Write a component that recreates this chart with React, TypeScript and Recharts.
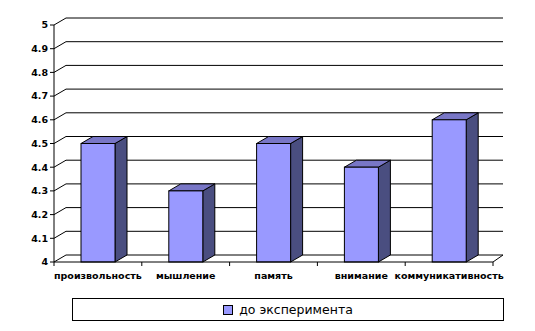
import React from "react";
import { BarChart, Bar, XAxis, YAxis, CartesianGrid, Legend, Customized } from "recharts";

const categories = ["произвольность", "мышление", "память", "внимание", "коммуникативность"];
const beforeValues = [4.5, 4.3, 4.5, 4.4, 4.6];
const yTicks = [4, 4.1, 4.2, 4.3, 4.4, 4.5, 4.6, 4.7, 4.8, 4.9, 5];
const seriesName = "до эксперимента";

const data = categories.map((name, i) => ({ name, before: beforeValues[i] }));

// 3D depth of the Excel-style column
const DX = 12;
const DY = 7;
const FONT = "'DejaVu Sans', sans-serif";

function Column3D(props: any) {
  const { x, y, width, height } = props;
  if (height == null || height <= 0) return null;
  const top = `${x},${y} ${x + DX},${y - DY} ${x + width + DX},${y - DY} ${x + width},${y}`;
  const side = `${x + width},${y} ${x + width + DX},${y - DY} ${x + width + DX},${y + height - DY} ${x + width},${y + height}`;
  return (
    <g>
      <polygon points={side} fill="#4a4e80" stroke="#000" strokeWidth={1} />
      <polygon points={top} fill="#7876c6" stroke="#000" strokeWidth={1} />
      <rect x={x} y={y} width={width} height={height} fill="#9999ff" stroke="#000" strokeWidth={1} />
    </g>
  );
}

function GridLine(props: any) {
  const { x1, x2, y1, index } = props;
  return (
    <g key={`g-${index}`}>
      <line x1={x1} y1={y1} x2={x1 + DX} y2={y1 - DY} stroke="#000" />
      <line x1={x1 + DX} y1={y1 - DY} x2={x2 + DX - 2} y2={y1 - DY} stroke="#000" />
      {index === 0 && <line x1={x2 + DX - 2} y1={y1 - DY} x2={x2} y2={y1} stroke="#000" />}
    </g>
  );
}

function CategoryTick(props: any) {
  const { x, y, payload, index } = props;
  const half = payload?.offset ?? 44;
  return (
    <g>
      {index === 0 && <line x1={x - half} y1={y} x2={x - half} y2={y + 4} stroke="#000" />}
      <line x1={x + half} y1={y} x2={x + half} y2={y + 4} stroke="#000" />
      <text x={x} y={y + 17} textAnchor="middle" fontFamily={FONT} fontSize={9.5} fontWeight="bold" fill="#000">
        {payload.value}
      </text>
    </g>
  );
}

function LegendBox() {
  return (
    <div style={{ paddingLeft: 72 }}>
      <div
        style={{
          boxSizing: "border-box",
          width: 432,
          height: 23,
          border: "1px solid #000",
          background: "#fff",
          display: "flex",
          alignItems: "center",
          justifyContent: "center",
          fontFamily: FONT,
          fontSize: 12.5,
          color: "#000",
        }}
      >
        <span style={{ display: "inline-block", width: 8, height: 8, background: "#9999ff", border: "1px solid #000", marginRight: 6 }} />
        <span>{seriesName}</span>
      </div>
    </div>
  );
}

// outer chart-area border
const Frame = () => <rect x={6.5} y={6.5} width={523} height={318} fill="none" stroke="#000" />;

export default function App() {
  return (
    <div style={{ margin: -8, width: 535, height: 331, background: "#fff" }}>
      <BarChart
        width={535}
        height={331}
        data={data}
        margin={{ top: 25, right: 42, left: 0, bottom: 10 }}
        barSize={34}
      >
        <Customized component={Frame} />
        <CartesianGrid vertical={false} horizontal={(p: any) => <GridLine {...p} />} />
        <XAxis
          dataKey="name"
          height={36}
          interval={0}
          tickSize={0}
          tickMargin={0}
          tickLine={false}
          axisLine={{ stroke: "#000" }}
          tick={<CategoryTick />}
        />
        <YAxis
          width={54}
          domain={[4, 5]}
          ticks={yTicks}
          interval={0}
          tickSize={4}
          tickMargin={2}
          axisLine={{ stroke: "#000" }}
          tickLine={{ stroke: "#000" }}
          tick={{ fontFamily: FONT, fontSize: 9.5, fontWeight: "bold", fill: "#000" }}
          tickFormatter={(v: number) => String(Math.round(v * 10) / 10)}
        />
        <Legend verticalAlign="bottom" align="left" content={() => <LegendBox />} />
        <Bar dataKey="before" name={seriesName} shape={<Column3D />} isAnimationActive={false} />
      </BarChart>
    </div>
  );
}
